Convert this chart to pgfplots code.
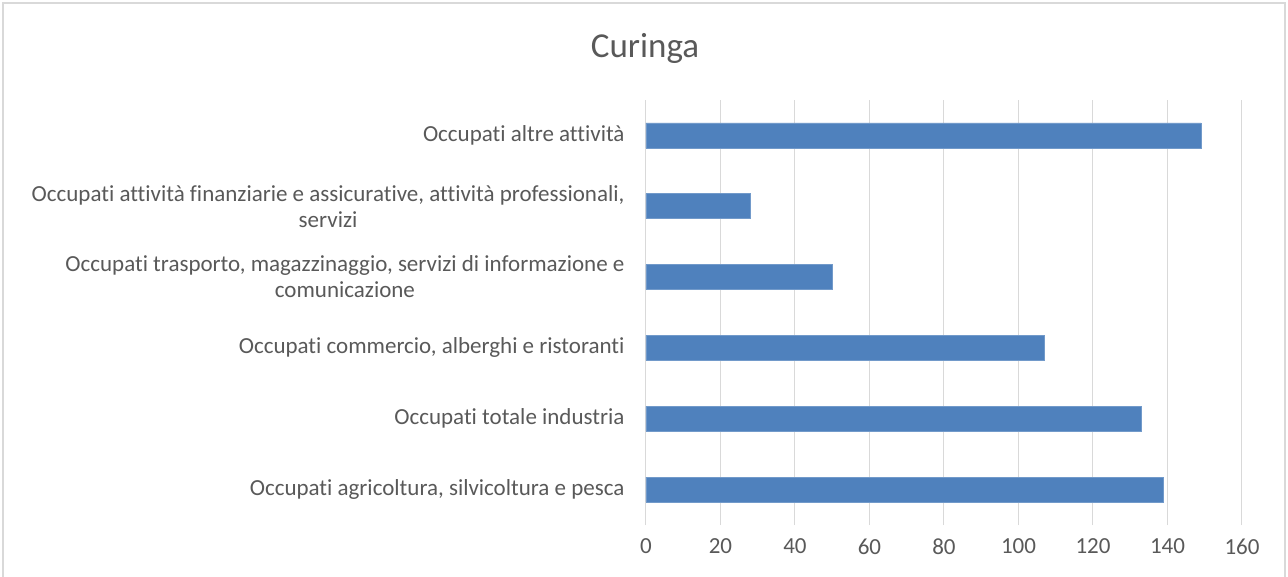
\documentclass[border=0pt]{standalone}
\usepackage{pgfplots}
\pgfplotsset{compat=1.18}
\usepackage{fontspec}
\setmainfont{Carlito}[Ligatures={NoCommon}]
\definecolor{barblue}{HTML}{4F81BD}
\definecolor{txtgray}{HTML}{595959}
\definecolor{gridgray}{HTML}{D9D9D9}
\definecolor{framegray}{HTML}{D9D9D9}
\begin{document}
\begin{tikzpicture}
\useasboundingbox (-646bp,-52bp) rectangle (642bp,525bp);
\draw[framegray, line width=1.5bp] (-643bp,-60bp) -- (-643bp,522bp) -- (639bp,522bp) -- (639bp,-60bp);
\begin{axis}[
  at={(0,0)}, anchor=south west,
  scale only axis,
  width=596bp, height=425bp,
  xbar, bar width=25bp,
  xmin=0, xmax=160,
  ymin=-0.5, ymax=5.5,
  xtick={0,20,...,160},
  ytick={0,1,2,3,4,5},
  yticklabels={
    {Occupati agricoltura, silvicoltura e pesca},
    {Occupati totale industria},
    {Occupati commercio, alberghi e ristoranti},
    {Occupati trasporto, magazzinaggio, servizi di informazione e\\comunicazione},
    {Occupati attività finanziarie e assicurative, attività professionali,\\servizi},
    {Occupati altre attività}},
  yticklabel style={align=center, font=\fontsize{23bp}{26bp}\selectfont, text=txtgray, xshift=-18bp},
  xticklabel style={font=\fontsize{23bp}{26bp}\selectfont, text=txtgray, yshift=-10bp},
  /pgf/number format/assume math mode=true,
  axis line style={draw=none},
  major tick length=0pt,
  xmajorgrids, grid style={gridgray, line width=1bp},
  clip=false,
]
\addplot[fill=barblue, draw=barblue!80!white, line width=0.6bp] coordinates {
  (139,0) (133,1) (107,2) (50,3) (28,4) (149,5)
};
\end{axis}
\node[text=txtgray, font=\fontsize{35bp}{40bp}\selectfont] at (-1bp,477bp) {Curinga};
\end{tikzpicture}
\end{document}
